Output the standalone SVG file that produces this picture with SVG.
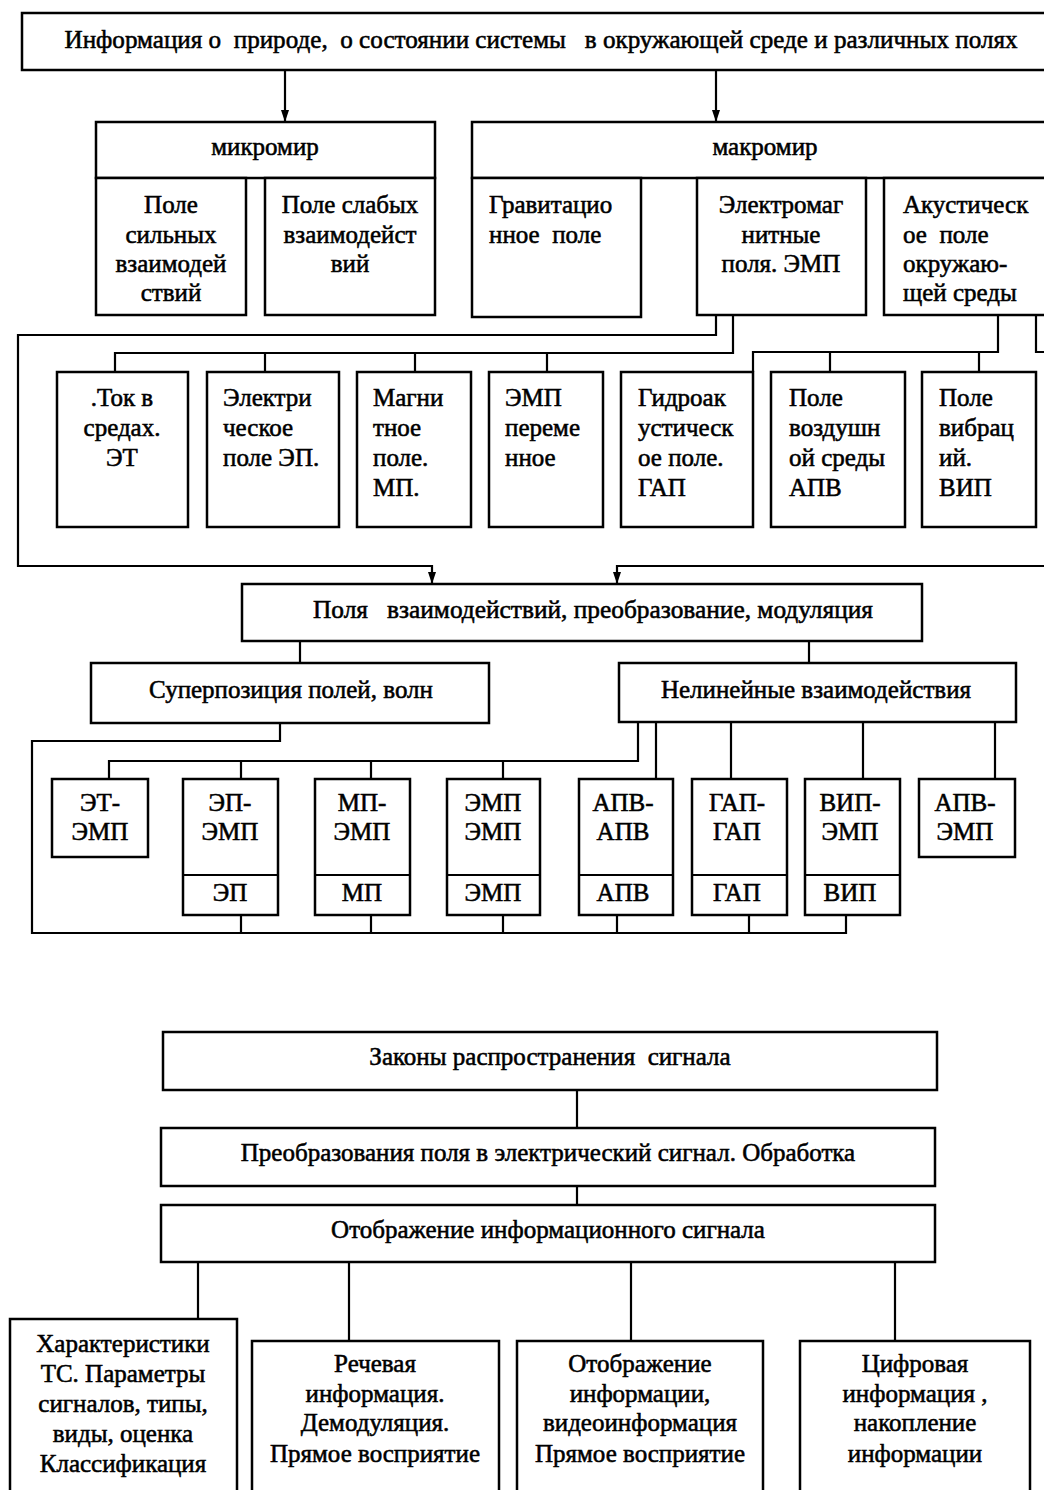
<svg xmlns="http://www.w3.org/2000/svg" width="1044" height="1490" viewBox="0 0 1044 1490">
<style>
.b{fill:#fff;stroke:#000;stroke-width:2.5}
.c{fill:none;stroke:#000;stroke-width:2.2}
.t{font-family:"Liberation Serif","Times New Roman",serif;font-size:25px;fill:#000;stroke:#000;stroke-width:0.55}
.m{text-anchor:middle}
</style>
<defs>
<marker id="ar" viewBox="0 0 12 8" markerWidth="12" markerHeight="8" refX="12" refY="4" orient="auto" markerUnits="userSpaceOnUse">
<path d="M0,0 L12,4 L0,8 z" fill="#000"/>
</marker>
</defs>
<rect width="1044" height="1490" fill="#fff"/>

<g id="connectors">
<path class="c" d="M285,70 V122" marker-end="url(#ar)"/>
<path class="c" d="M716,70 V122" marker-end="url(#ar)"/>
<path class="c" d="M716,315 V335 H18 V566 H432 V584" marker-end="url(#ar)"/>
<path class="c" d="M733,315 V353 H115 V372 M265,353 V372 M415,353 V372 M547,353 V372"/>
<path class="c" d="M998,315 V352 H753 V372 M830,352 V372 M979,352 V372"/>
<path class="c" d="M1036,315 V352 H1050"/>
<path class="c" d="M1050,566 H617 V584" marker-end="url(#ar)"/>
<path class="c" d="M300,641 V663 M809,641 V663"/>
<path class="c" d="M280,723 V741 H32 V933 H846 V915 M241,933 V915 M371,933 V915 M503,933 V915 M617,933 V915 M749,933 V915"/>
<path class="c" d="M638,722 V761 H109 V779 M241,761 V779 M371,761 V779 M503,761 V779"/>
<path class="c" d="M656,722 V779 M731,722 V779 M863,722 V779 M995,722 V779"/>
<path class="c" d="M577,1090 V1128 M577,1186 V1205"/>
<path class="c" d="M198,1262 V1319 M349,1262 V1341 M631,1262 V1341 M895,1262 V1341"/>
</g>

<g id="n-info">
<rect class="b" x="22" y="13" width="1040" height="57"/>
<text class="t m" x="541" y="48" xml:space="preserve" textLength="953" lengthAdjust="spacingAndGlyphs">Информация о  природе,  о состоянии системы   в окружающей среде и различных полях</text>
</g>

<g id="n-micro">
<rect class="b" x="96" y="122" width="339" height="56"/>
<text class="t m" x="265" y="155">микромир</text>
</g>
<g id="n-strong">
<rect class="b" x="96" y="178" width="150" height="137"/>
<text class="t m"><tspan x="171" y="213">Поле</tspan><tspan x="171" y="243">сильных</tspan><tspan x="171" y="272">взаимодей</tspan><tspan x="171" y="301">ствий</tspan></text>
</g>
<g id="n-weak">
<rect class="b" x="265" y="178" width="170" height="137"/>
<text class="t m"><tspan x="350" y="213">Поле слабых</tspan><tspan x="350" y="243">взаимодейст</tspan><tspan x="350" y="272">вий</tspan></text>
</g>

<g id="n-macro">
<rect class="b" x="472" y="122" width="590" height="56"/>
<text class="t m" x="765" y="155">макромир</text>
</g>
<g id="n-grav">
<rect class="b" x="472" y="178" width="169" height="139"/>
<text class="t" xml:space="preserve"><tspan x="489" y="213">Гравитацио</tspan><tspan x="489" y="243">нное  поле</tspan></text>
</g>
<g id="n-emp">
<rect class="b" x="697" y="178" width="169" height="137"/>
<text class="t m"><tspan x="781" y="213">Электромаг</tspan><tspan x="781" y="243">нитные</tspan><tspan x="781" y="272">поля. ЭМП</tspan></text>
</g>
<g id="n-acoustic">
<rect class="b" x="884" y="178" width="178" height="137"/>
<text class="t" xml:space="preserve"><tspan x="903" y="213">Акустическ</tspan><tspan x="903" y="243">ое  поле</tspan><tspan x="903" y="272">окружаю-</tspan><tspan x="903" y="301">щей среды</tspan></text>
</g>

<g id="n-et">
<rect class="b" x="57" y="372" width="131" height="155"/>
<text class="t m"><tspan x="122" y="406">.Ток в</tspan><tspan x="122" y="436">средах.</tspan><tspan x="122" y="466">ЭТ</tspan></text>
</g>
<g id="n-ep">
<rect class="b" x="207" y="372" width="132" height="155"/>
<text class="t"><tspan x="223" y="406">Электри</tspan><tspan x="223" y="436">ческое</tspan><tspan x="223" y="466">поле ЭП.</tspan></text>
</g>
<g id="n-mp">
<rect class="b" x="357" y="372" width="114" height="155"/>
<text class="t"><tspan x="373" y="406">Магни</tspan><tspan x="373" y="436">тное</tspan><tspan x="373" y="466">поле.</tspan><tspan x="373" y="496">МП.</tspan></text>
</g>
<g id="n-empvar">
<rect class="b" x="489" y="372" width="114" height="155"/>
<text class="t"><tspan x="505" y="406">ЭМП</tspan><tspan x="505" y="436">переме</tspan><tspan x="505" y="466">нное</tspan></text>
</g>
<g id="n-gap">
<rect class="b" x="621" y="372" width="132" height="155"/>
<text class="t"><tspan x="638" y="406">Гидроак</tspan><tspan x="638" y="436">устическ</tspan><tspan x="638" y="466">ое поле.</tspan><tspan x="638" y="496">ГАП</tspan></text>
</g>
<g id="n-apv">
<rect class="b" x="771" y="372" width="134" height="155"/>
<text class="t"><tspan x="789" y="406">Поле</tspan><tspan x="789" y="436">воздушн</tspan><tspan x="789" y="466">ой среды</tspan><tspan x="789" y="496">АПВ</tspan></text>
</g>
<g id="n-vip">
<rect class="b" x="922" y="372" width="114" height="155"/>
<text class="t"><tspan x="939" y="406">Поле</tspan><tspan x="939" y="436">вибрац</tspan><tspan x="939" y="466">ий.</tspan><tspan x="939" y="496">ВИП</tspan></text>
</g>

<g id="n-interact">
<rect class="b" x="242" y="584" width="680" height="57"/>
<text class="t m" x="593" y="618" xml:space="preserve" textLength="560" lengthAdjust="spacingAndGlyphs">Поля   взаимодействий, преобразование, модуляция</text>
</g>
<g id="n-super">
<rect class="b" x="91" y="663" width="398" height="60"/>
<text class="t m" x="291" y="698">Суперпозиция полей, волн</text>
</g>
<g id="n-nonlin">
<rect class="b" x="619" y="663" width="397" height="59"/>
<text class="t m" x="816" y="698">Нелинейные взаимодействия</text>
</g>

<g id="n-et-emp">
<rect class="b" x="52" y="779" width="96" height="78"/>
<text class="t m"><tspan x="100" y="811">ЭТ-</tspan><tspan x="100" y="840">ЭМП</tspan></text>
</g>
<g id="n-ep-emp">
<rect class="b" x="183" y="779" width="95" height="136"/>
<path class="c" d="M183,875 H278"/>
<text class="t m"><tspan x="230" y="811">ЭП-</tspan><tspan x="230" y="840">ЭМП</tspan><tspan x="230" y="901">ЭП</tspan></text>
</g>
<g id="n-mp-emp">
<rect class="b" x="315" y="779" width="95" height="136"/>
<path class="c" d="M315,875 H410"/>
<text class="t m"><tspan x="362" y="811">МП-</tspan><tspan x="362" y="840">ЭМП</tspan><tspan x="362" y="901">МП</tspan></text>
</g>
<g id="n-emp-emp">
<rect class="b" x="447" y="779" width="93" height="136"/>
<path class="c" d="M447,875 H540"/>
<text class="t m"><tspan x="493" y="811">ЭМП</tspan><tspan x="493" y="840">ЭМП</tspan><tspan x="493" y="901">ЭМП</tspan></text>
</g>
<g id="n-apv-apv">
<rect class="b" x="579" y="779" width="94" height="136"/>
<path class="c" d="M579,875 H673"/>
<text class="t m"><tspan x="623" y="811">АПВ-</tspan><tspan x="623" y="840">АПВ</tspan><tspan x="623" y="901">АПВ</tspan></text>
</g>
<g id="n-gap-gap">
<rect class="b" x="692" y="779" width="95" height="136"/>
<path class="c" d="M692,875 H787"/>
<text class="t m"><tspan x="737" y="811">ГАП-</tspan><tspan x="737" y="840">ГАП</tspan><tspan x="737" y="901">ГАП</tspan></text>
</g>
<g id="n-vip-emp">
<rect class="b" x="805" y="779" width="95" height="136"/>
<path class="c" d="M805,875 H900"/>
<text class="t m"><tspan x="850" y="811">ВИП-</tspan><tspan x="850" y="840">ЭМП</tspan><tspan x="850" y="901">ВИП</tspan></text>
</g>
<g id="n-apv-emp">
<rect class="b" x="919" y="779" width="96" height="78"/>
<text class="t m"><tspan x="965" y="811">АПВ-</tspan><tspan x="965" y="840">ЭМП</tspan></text>
</g>

<g id="n-laws">
<rect class="b" x="163" y="1032" width="774" height="58"/>
<text class="t m" x="550" y="1065" xml:space="preserve">Законы распространения  сигнала</text>
</g>
<g id="n-convert">
<rect class="b" x="161" y="1128" width="774" height="58"/>
<text class="t m" x="548" y="1161">Преобразования поля в электрический сигнал. Обработка</text>
</g>
<g id="n-display">
<rect class="b" x="161" y="1205" width="774" height="57"/>
<text class="t m" x="548" y="1238">Отображение информационного сигнала</text>
</g>
<g id="n-char">
<rect class="b" x="10" y="1319" width="227" height="190"/>
<text class="t m"><tspan x="123" y="1352">Характеристики</tspan><tspan x="123" y="1382">ТС. Параметры</tspan><tspan x="123" y="1412">сигналов, типы,</tspan><tspan x="123" y="1442">виды, оценка</tspan><tspan x="123" y="1472">Классификация</tspan></text>
</g>
<g id="n-speech">
<rect class="b" x="252" y="1341" width="247" height="170"/>
<text class="t m"><tspan x="375" y="1372">Речевая</tspan><tspan x="375" y="1402">информация.</tspan><tspan x="375" y="1431">Демодуляция.</tspan><tspan x="375" y="1462">Прямое восприятие</tspan></text>
</g>
<g id="n-video">
<rect class="b" x="517" y="1341" width="246" height="170"/>
<text class="t m"><tspan x="640" y="1372">Отображение</tspan><tspan x="640" y="1402">информации,</tspan><tspan x="640" y="1431">видеоинформация</tspan><tspan x="640" y="1462">Прямое восприятие</tspan></text>
</g>
<g id="n-digital">
<rect class="b" x="800" y="1341" width="230" height="170"/>
<text class="t m"><tspan x="915" y="1372">Цифровая</tspan><tspan x="915" y="1402">информация ,</tspan><tspan x="915" y="1431">накопление</tspan><tspan x="915" y="1462">информации</tspan></text>
</g>
</svg>
